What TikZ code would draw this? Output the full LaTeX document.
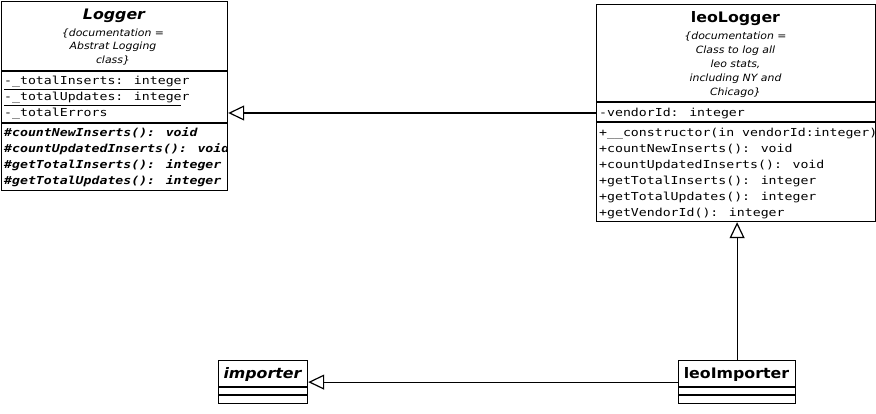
\documentclass[tikz,border=0pt]{standalone}
\usepackage{fontspec}
\newfontfamily\umlsans[FakeStretch=1.09]{DejaVu Sans}
\newfontfamily\umlmono[FakeStretch=1.2]{DejaVu Sans Mono}
\usetikzlibrary{arrows.meta}
\tikzset{
  umlbox/.style={draw, line width=1.2pt, rectangle, inner sep=0pt, anchor=north west},
  sep/.style={line width=1.2pt},
  titletext/.style={font=\umlsans\bfseries\fontsize{14.5}{16}\selectfont, anchor=mid, inner sep=0pt},
  titleabstract/.style={font=\umlsans\bfseries\itshape\fontsize{14.5}{16}\selectfont, anchor=mid, inner sep=0pt},
  doctext/.style={font=\umlsans\itshape\fontsize{10}{11}\selectfont, anchor=mid, inner sep=0pt},
  membertext/.style={font=\umlmono\fontsize{11}{13}\selectfont, anchor=mid west, inner sep=0pt},
  abstractmember/.style={font=\umlmono\bfseries\itshape\fontsize{11}{13}\selectfont, anchor=mid west, inner sep=0pt},
  staticline/.style={line width=0.9pt},
  inh/.style={-{Triangle[open,length=16pt,width=15pt]}, line width=1.2pt}
}
\begin{document}
\begin{tikzpicture}[x=1pt,y=-1pt]
\useasboundingbox (0,0) rectangle (876,414);
% ---------- boxes ----------
\node[umlbox, minimum width=226pt, minimum height=189pt] (logger) at (1,1) {};
\node[umlbox, minimum width=279pt, minimum height=217pt] (leologger) at (596,4) {};
\node[umlbox, minimum width=89pt, minimum height=43pt] (importer) at (218,360) {};
\node[umlbox, minimum width=117pt, minimum height=43pt] (leoimporter) at (678,360) {};
% compartments
\draw[sep] (logger.west |- 0,71) -- (logger.east |- 0,71);
\draw[sep] (logger.west |- 0,123) -- (logger.east |- 0,123);
\draw[sep] (leologger.west |- 0,102) -- (leologger.east |- 0,102);
\draw[sep] (leologger.west |- 0,122) -- (leologger.east |- 0,122);
\draw[sep] (importer.west |- 0,387) -- (importer.east |- 0,387);
\draw[sep] (importer.west |- 0,395) -- (importer.east |- 0,395);
\draw[sep] (leoimporter.west |- 0,387) -- (leoimporter.east |- 0,387);
\draw[sep] (leoimporter.west |- 0,395) -- (leoimporter.east |- 0,395);
% ---------- Logger ----------
\node[titleabstract] (loggerT) at (114,17.5) {Logger};
\node[doctext] (loggerD1) at (113,34) {\{documentation =};
\node[doctext] (loggerD2) at (113,47.5) {Abstrat Logging};
\node[doctext] (loggerD3) at (113,61) {class\}};
\begin{scope}
\clip (logger.north west) rectangle ([xshift=-0.6pt]logger.south east);
\node[membertext] (loggerA1) at (4,82.5) {-\_totalInserts: integer};
\node[membertext] (loggerA2) at (4,98.5) {-\_totalUpdates: integer};
\node[membertext] (loggerA3) at (4,114.5) {-\_totalErrors};
\node[abstractmember] (loggerM1) at (4,134) {\#countNewInserts(): void};
\node[abstractmember] (loggerM2) at (4,150) {\#countUpdatedInserts(): void};
\node[abstractmember] (loggerM3) at (4,166) {\#getTotalInserts(): integer};
\node[abstractmember] (loggerM4) at (4,182) {\#getTotalUpdates(): integer};
\end{scope}
\draw[staticline] (4,89.5) -- (181,89.5);
\draw[staticline] (4,105.5) -- (181,105.5);
% ---------- leoLogger ----------
\node[titletext] (leologgerT) at (735.5,20.5) {leoLogger};
\node[doctext] (leologgerD1) at (735.5,37) {\{documentation =};
\node[doctext] (leologgerD2) at (735.5,51) {Class to log all};
\node[doctext] (leologgerD3) at (735.5,65) {leo stats,};
\node[doctext] (leologgerD4) at (735.5,79) {including NY and};
\node[doctext] (leologgerD5) at (735.5,93) {Chicago\}};
\begin{scope}
\clip (leologger.north west) rectangle ([xshift=-0.6pt]leologger.south east);
\node[membertext] (leologgerA1) at (599,114) {-vendorId: integer};
\node[membertext] (leologgerM1) at (599,134) {+\_\_constructor(in vendorId:integer)};
\node[membertext] (leologgerM2) at (599,150) {+countNewInserts(): void};
\node[membertext] (leologgerM3) at (599,166) {+countUpdatedInserts(): void};
\node[membertext] (leologgerM4) at (599,182) {+getTotalInserts(): integer};
\node[membertext] (leologgerM5) at (599,198) {+getTotalUpdates(): integer};
\node[membertext] (leologgerM6) at (599,214) {+getVendorId(): integer};
\end{scope}
% ---------- importer / leoImporter ----------
\node[titleabstract] (importerT) at (262.5,376.5) {importer};
\node[titletext] (leoimporterT) at (736.5,376.5) {leoImporter};
% ---------- generalisations ----------
\draw[inh] (leologger.west |- 0,113) -- (logger.east |- 0,113);
\draw[inh] (leoimporter.north) -- (leoimporter.north |- leologger.south);
\draw[inh] (leoimporter.west) -- (importer.east);
\end{tikzpicture}
\end{document}
